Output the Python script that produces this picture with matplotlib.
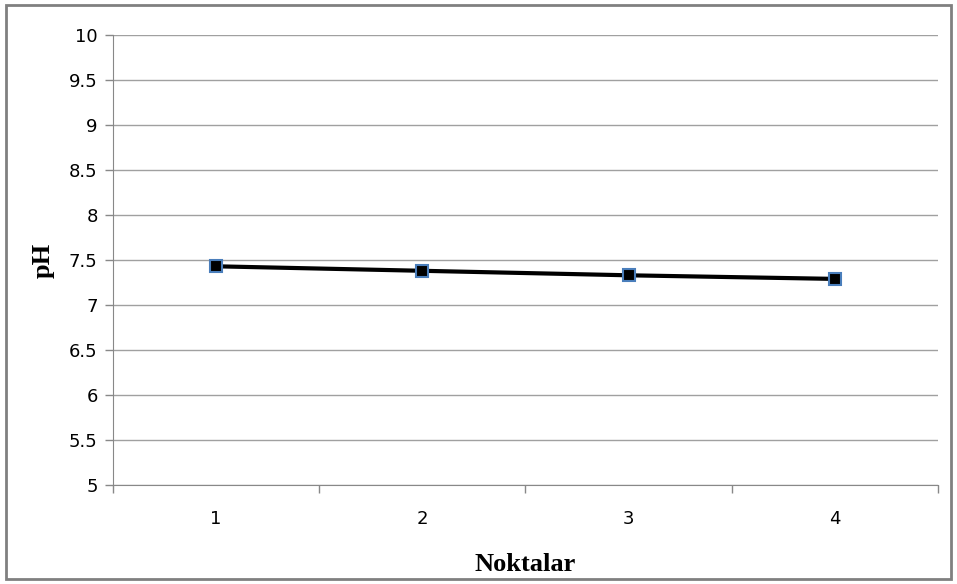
import matplotlib
matplotlib.use("Agg")
from matplotlib import pyplot as plt
from matplotlib.patches import Rectangle

# pH readings per point
points = [1, 2, 3, 4]
ph = [7.43, 7.38, 7.33, 7.29]
yticks = [5, 5.5, 6, 6.5, 7, 7.5, 8, 8.5, 9, 9.5, 10]

fig = plt.figure(figsize=(9.57, 5.84), dpi=100)
ax = fig.add_axes([113/957, 99/584, 825/957, 450/584])

ax.plot(points, ph, color="black", linewidth=3, marker="s", markersize=8,
        markerfacecolor="black", markeredgecolor="#4a7ebb", markeredgewidth=1.5, zorder=3)

ax.set_xlim(0.5, 4.5)
ax.set_ylim(5, 10)
ax.set_yticks(yticks)
ax.set_yticklabels(["5", "5.5", "6", "6.5", "7", "7.5", "8", "8.5", "9", "9.5", "10"])
ax.set_xticks(points)
ax.set_xticklabels([str(p) for p in points])
ax.set_xticks([0.5, 1.5, 2.5, 3.5, 4.5], minor=True)
ax.tick_params(axis="x", which="major", length=0, pad=18, labelsize=13, colors="black")
ax.tick_params(axis="x", which="minor", length=6, color="#888888", width=1)
ax.tick_params(axis="y", length=6, color="#888888", width=1, labelsize=13, colors="black", pad=5)
for lab in ax.get_yticklabels():
    lab.set_color("black")

ax.grid(axis="y", color="#a0a0a0", linewidth=1)
ax.set_axisbelow(True)
for side in ["top", "right"]:
    ax.spines[side].set_visible(False)
ax.spines["left"].set_color("#888888")
ax.spines["bottom"].set_color("#888888")

ax.set_ylabel("pH", fontfamily="Liberation Serif", fontweight="bold", fontsize=19, labelpad=10)
ax.set_xlabel("Noktalar", fontfamily="Liberation Serif", fontweight="bold", fontsize=19, labelpad=18)

# outer chart border
fig.patches.append(Rectangle((6/957, 5/584), 945/957, 574/584, transform=fig.transFigure,
                             fill=False, edgecolor="#808080", linewidth=2))

fig.savefig("out.png", dpi=100)
